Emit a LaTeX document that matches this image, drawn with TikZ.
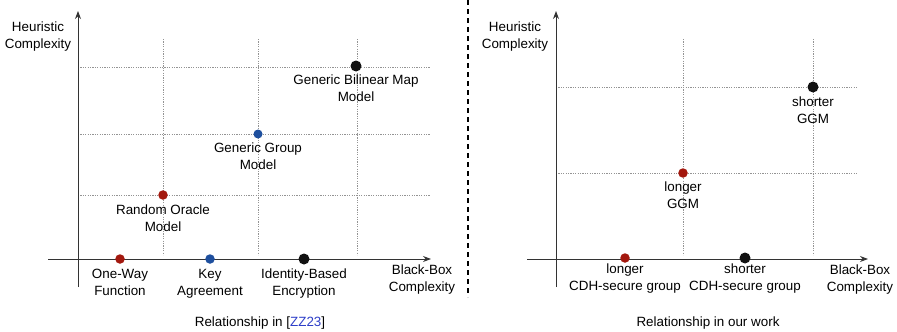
\documentclass[tikz,border=0pt]{standalone}
\usepackage{fontspec}
\setmainfont{Liberation Sans}
\usetikzlibrary{arrows.meta}
\definecolor{ptred}{HTML}{A3180E}
\definecolor{ptblue}{HTML}{1E4F9E}
\definecolor{ptblack}{HTML}{111111}
\definecolor{axisgray}{HTML}{333333}
\definecolor{citeblue}{HTML}{2E3FC8}
\tikzset{
  axis/.style={draw=axisgray, line width=1pt, -{Stealth[length=8pt,width=6pt]}},
  grid line/.style={draw=gray!85, line width=0.6pt, dash pattern=on 1.2pt off 1.2pt},
  dot/.style={circle, inner sep=0pt, minimum size=#1},
  lbl/.style={align=center, font=\fontsize{13.4}{16.8}\selectfont, inner sep=0pt},
  separator/.style={draw=black, line width=1.6pt, dash pattern=on 5pt off 4pt},
}
\begin{document}
\begin{tikzpicture}[x=1pt,y=-1pt]
\useasboundingbox (0,0) rectangle (897,332);

% ---------------- left panel ----------------
% grid
\foreach \gx in {163,258,357} \draw[grid line] (\gx,39) -- (\gx,255);
\foreach \gy in {67,134,195} \draw[grid line] (78,\gy) -- (430,\gy);
% axes
\coordinate (Ly0) at (78,287);
\coordinate (Ly1) at (78,11);
\coordinate (Lx0) at (48,259);
\coordinate (Lx1) at (431,259);
\draw[axis] (Ly0) -- (Ly1);
\draw[axis] (Lx0) -- (Lx1);
% points
\node[dot=11pt, fill=ptblack] (gbmm) at (356,66) {};
\node[dot=9pt, fill=ptblue] (ggm) at (258,134) {};
\node[dot=9.5pt, fill=ptred] (rom) at (163,195) {};
\node[dot=9.5pt, fill=ptred] (owf) at (120,259) {};
\node[dot=9.5pt, fill=ptblue] (ka) at (210,259) {};
\node[dot=11pt, fill=ptblack] (ibe) at (304,259) {};
% labels
\node[lbl, anchor=north] (gbmmL) at (356,75) {Generic Bilinear Map\\Model};
\node[lbl, anchor=north] (ggmL) at (258,143) {Generic Group\\Model};
\node[lbl, anchor=north] (romL) at (163,205) {Random Oracle\\Model};
\node[lbl, anchor=north] (owfL) at (120,269) {One-Way\\Function};
\node[lbl, anchor=north] (kaL) at (210,269) {Key\\Agreement};
\node[lbl, anchor=north] (ibeL) at (304,269) {Identity-Based\\Encryption};
\node[lbl, anchor=north] (bbL) at (422,265) {Black-Box\\Complexity};
\node[lbl, anchor=north] (hcL) at (38,22) {Heuristic\\Complexity};
\node[lbl, anchor=center] (capL) at (260,323) {Relationship in [\textcolor{citeblue}{ZZ23}]};

% ---------------- separator ----------------
\coordinate (s0) at (468,0);
\coordinate (s1) at (468,297);
\draw[separator] (s0) -- (s1);

% ---------------- right panel ----------------
\foreach \gx in {683,813} \draw[grid line] (\gx,39) -- (\gx,255);
\foreach \gy in {87,173} \draw[grid line] (556,\gy) -- (857,\gy);
\coordinate (Ry0) at (556,287);
\coordinate (Ry1) at (556,11);
\coordinate (Rx0) at (527,259);
\coordinate (Rx1) at (868,259);
\draw[axis] (Ry0) -- (Ry1);
\draw[axis] (Rx0) -- (Rx1);
\node[dot=11pt, fill=ptblack] (sggm) at (813,87) {};
\node[dot=9.5pt, fill=ptred] (lggm) at (683,173) {};
\node[dot=9.5pt, fill=ptred] (lcdh) at (625,258) {};
\node[dot=11pt, fill=ptblack] (scdh) at (745,258) {};
\node[lbl, anchor=north] (sggmL) at (813,97) {shorter\\GGM};
\node[lbl, anchor=north] (lggmL) at (683,182) {longer\\GGM};
\node[lbl, anchor=north] (lcdhL) at (625,264) {longer\\CDH-secure group};
\node[lbl, anchor=north] (scdhL) at (745,264) {shorter\\CDH-secure group};
\node[lbl, anchor=north] (rbbL) at (860,265) {Black-Box\\Complexity};
\node[lbl, anchor=north] (rhcL) at (515,22) {Heuristic\\Complexity};
\node[lbl, anchor=center] (capR) at (708,323) {Relationship in our work};
\end{tikzpicture}
\end{document}
